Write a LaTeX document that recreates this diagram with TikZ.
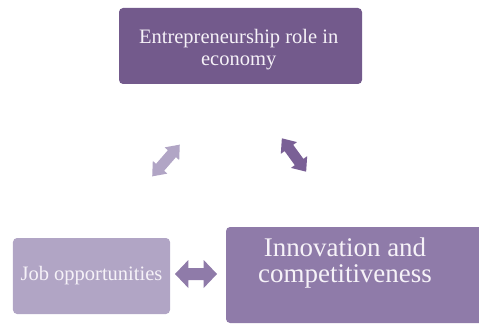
\documentclass[tikz,border=0pt]{standalone}
\usepackage{tikz}
\usepackage{xcolor}
\usepackage{fontspec}
\setmainfont{Liberation Serif}

\definecolor{topfill}{HTML}{735A8C}
\definecolor{jobfill}{HTML}{B1A5C5}
\definecolor{innofill}{HTML}{8F7BA9}
\definecolor{arrowright}{HTML}{7A6096}
\definecolor{boxtext}{HTML}{F6F2F8}

% two-headed block arrow: colour, centre, angle, half length, half head width, half shaft width, head length
\newcommand{\twoway}[7]{%
  \fill[#1, shift={#2}, rotate=#3]
    (-#4,0) -- (-#4+#7,#5) -- (-#4+#7,#6) -- (#4-#7,#6) -- (#4-#7,#5) -- (#4,0)
    -- (#4-#7,-#5) -- (#4-#7,-#6) -- (-#4+#7,-#6) -- (-#4+#7,-#5) -- cycle;}

\begin{document}
\begin{tikzpicture}[
    box/.style={rounded corners=3.5pt, inner sep=0pt, text=boxtext, align=center},
    boxfont/.style={font=\fontsize{17.5}{19}\selectfont}
  ]
  \useasboundingbox (0,0) rectangle (14.37,9.75);

  % Top box
  \node[box, fill=topfill, minimum width=7.29cm, minimum height=2.28cm]
    (econ) at (7.215,8.37) {};
  \node[text=boxtext, align=center, boxfont]
    (econtext) at (7.16,8.26) {Entrepreneurship role in\\economy};

  % Left box
  \node[box, boxfont, fill=jobfill, minimum width=4.71cm, minimum height=2.28cm]
    (jobs) at (2.745,1.47) {Job opportunities};

  % Right box, runs off the page
  \node[box, fill=innofill, minimum width=7.77cm, minimum height=2.88cm]
    (innov) at (10.665,1.5) {};
  \node[text=boxtext, align=center, font=\fontsize{23}{22}\selectfont]
    (innovtext) at (10.35,1.85) {Innovation and\\competitiveness};

  % Arrows
  \twoway{jobfill}{(4.98,4.935)}{49}{0.63}{0.29}{0.16}{0.36}
  \twoway{arrowright}{(8.82,5.1)}{-54}{0.62}{0.30}{0.16}{0.36}
  \twoway{innofill}{(5.88,1.53)}{0}{0.63}{0.42}{0.18}{0.40}
\end{tikzpicture}
\end{document}
